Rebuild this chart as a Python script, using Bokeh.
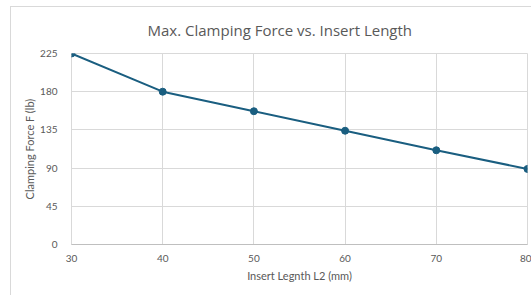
from bokeh.plotting import figure
from bokeh.embed import file_html
from bokeh.resources import INLINE
from bokeh.models import ColumnDataSource, FixedTicker, Range1d, Title

insert_length = [30, 40, 50, 60, 70, 80]
clamping_force = [225, 180, 157, 134, 111, 89]
y_ticks = [0, 45, 90, 135, 180, 225]
x_ticks = [30, 40, 50, 60, 70, 80]

TXT = "#595959"
GRID = "#d9d9d9"
LINE = "#1a5e80"

p = figure(width=521, height=289, output_backend="svg", toolbar_location=None,
           x_range=Range1d(30, 80), y_range=Range1d(0, 225),
           margin=(6, 0, 0, 10),
           styles={"border-left": "1px solid #d9d9d9", "border-top": "1px solid #d9d9d9"},
           min_border_left=60, min_border_right=5, min_border_top=45, min_border_bottom=52)

p.add_layout(Title(text="Max. Clamping Force vs. Insert Length", align="left", offset=76,
                   vertical_align="top",
                   text_font="Open Sans", text_font_size="15px", text_font_style="normal",
                   text_color=TXT, standoff=24), "above")

src = ColumnDataSource(dict(x=insert_length, y=clamping_force))
p.line("x", "y", source=src, line_color=LINE, line_width=2)
p.scatter("x", "y", source=src, size=7, fill_color=LINE, line_color=LINE)

p.outline_line_color = GRID
p.background_fill_color = "white"
p.border_fill_color = "white"

for ax in (p.xaxis, p.yaxis):
    ax.major_tick_line_color = None
    ax.minor_tick_line_color = None
    ax.major_label_text_color = TXT
    ax.major_label_text_font = "Lato"
    ax.major_label_text_font_size = "10px"
    ax.axis_label_text_color = TXT
    ax.axis_label_text_font = "Lato"
    ax.axis_label_text_font_size = "11px"
    ax.axis_label_text_font_style = "normal"

p.xaxis.ticker = FixedTicker(ticks=x_ticks)
p.yaxis.ticker = FixedTicker(ticks=y_ticks)
p.xaxis.axis_label = "Insert Legnth L2 (mm)"
p.yaxis.axis_label = "Clamping Force F (lb)"
p.xaxis.axis_line_color = "#bfbfbf"
p.yaxis.axis_line_color = None
p.xaxis.major_label_standoff = 4
p.yaxis.major_label_standoff = 8
p.xaxis.axis_label_standoff = 4
p.yaxis.axis_label_standoff = 1

p.xgrid.ticker = FixedTicker(ticks=x_ticks)
p.ygrid.ticker = FixedTicker(ticks=y_ticks)
p.xgrid.grid_line_color = GRID
p.ygrid.grid_line_color = GRID

open("out.html", "w").write(file_html(p, INLINE))
